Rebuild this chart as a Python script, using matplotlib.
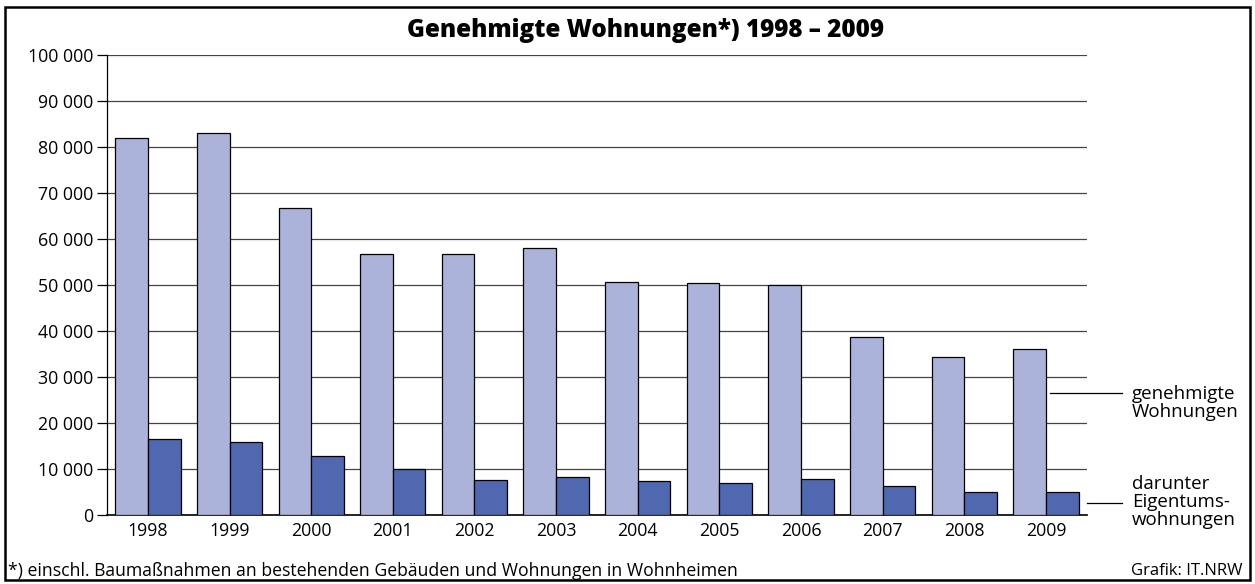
import matplotlib.pyplot as plt
import numpy as np
from matplotlib.patches import Rectangle
from matplotlib.lines import Line2D

# Daten
jahre = ['1998', '1999', '2000', '2001', '2002', '2003', '2004', '2005', '2006', '2007', '2008', '2009']
genehmigt = [82000, 83000, 66700, 56700, 56700, 58000, 50700, 50400, 50000, 38700, 34300, 36100]
eigentum = [16500, 15900, 12800, 9900, 7600, 8200, 7400, 6900, 7800, 6300, 5100, 4900]

plt.rcParams['font.family'] = ['Open Sans', 'DejaVu Sans']

fig = plt.figure(figsize=(12.55, 5.84), dpi=100)
ax = fig.add_axes([0.0853, 0.1182, 0.7807, 0.7876])

x = np.arange(len(jahre))
b = 0.4
ax.bar(x - b/2, genehmigt, b, color='#abb3da', edgecolor='black', linewidth=0.9, zorder=3)
ax.bar(x + b/2, eigentum, b, color='#5068b0', edgecolor='black', linewidth=0.9, zorder=3)

ax.set_xlim(-0.5, len(jahre) - 0.5)
ax.set_ylim(0, 100000)
ax.set_yticks(range(0, 100001, 10000))
ax.set_yticklabels(['0'] + ['{:,}'.format(v).replace(',', ' ') for v in range(10000, 100001, 10000)], fontsize=12.8)
ax.set_xticks(x)
ax.set_xticklabels(jahre, fontsize=12.8)
ax.tick_params(axis='x', length=0, pad=5)
ax.tick_params(axis='y', length=7, width=0.9, pad=3)
ax.grid(axis='y', color='#444444', linewidth=0.9, zorder=0)
for s in ['top', 'right']:
    ax.spines[s].set_visible(False)
ax.spines['left'].set_linewidth(0.9)
ax.spines['bottom'].set_linewidth(1.2)

fig.text(0.514, 0.948, 'Genehmigte Wohnungen*) 1998 – 2009', ha='center', va='center',
         fontsize=17.5, fontweight='heavy')

# Beschriftungen rechts
fig.text(0.902, 0.31, 'genehmigte\nWohnungen', ha='left', va='center', fontsize=13.5, linespacing=1.0)
fig.text(0.902, 0.14, 'darunter\nEigentums-\nwohnungen', ha='left', va='center', fontsize=13.5, linespacing=1.0)
fig.add_artist(Line2D([1050/1255, 1122/1255], [1 - 393/584, 1 - 393/584], color='black', lw=0.9))
fig.add_artist(Line2D([1087/1255, 1122/1255], [1 - 503/584, 1 - 503/584], color='black', lw=0.9))

fig.text(0.006, 0.022, '*) einschl. Baumaßnahmen an bestehenden Gebäuden und Wohnungen in Wohnheimen',
         ha='left', va='center', fontsize=12.7)
fig.text(0.99, 0.022, 'Grafik: IT.NRW', ha='right', va='center', fontsize=12)

fig.add_artist(Rectangle((5/1255, 4/584), 1 - 10/1255, 1 - 11/584, transform=fig.transFigure,
                         fill=False, edgecolor='black', linewidth=1.8))

fig.savefig('out.png', dpi=100)
